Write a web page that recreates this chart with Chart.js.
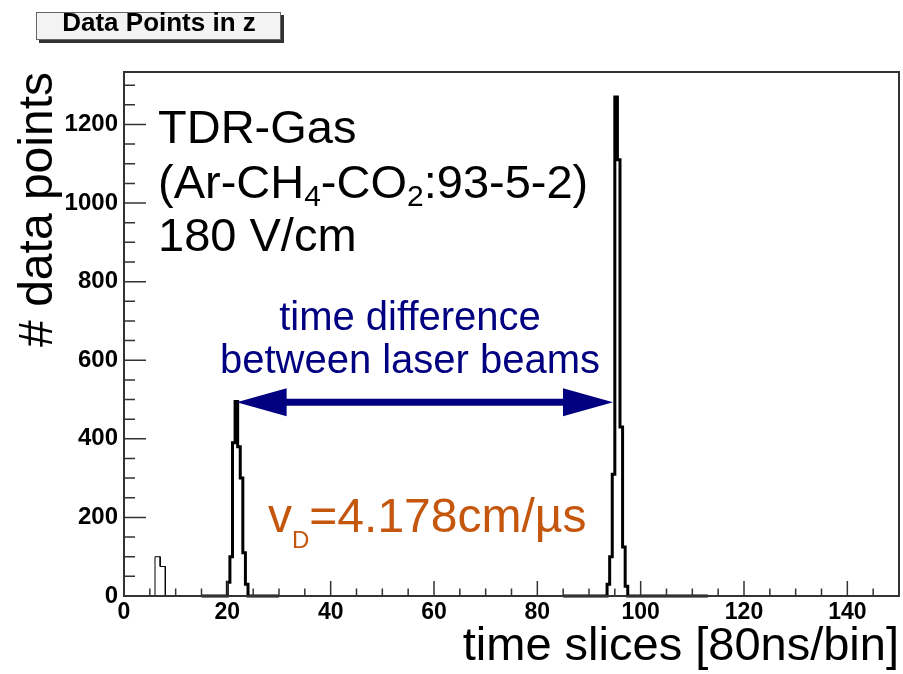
<!DOCTYPE html>
<html><head><meta charset="utf-8">
<script src="https://cdn.jsdelivr.net/npm/chart.js@4.4.0/dist/chart.umd.min.js"></script>
<style>html,body{margin:0;padding:0;background:#fff;} canvas{display:block;}</style>
</head><body>
<canvas id="c" width="903" height="674"></canvas>
<script>
// ---------- data ----------
const chartTitle = 'Data Points in z';
const xAxisTitle = 'time slices [80ns/bin]';
const yAxisTitle = '# data points';
const xRange = [0, 150];
const xTickStep = 20;
const xMinorStep = 5;
const yTickStep = 200;
const yMinorStep = 50;

// first laser beam peak (bin width 0.5 time slice, starting at 15)
const peak1Start = 15;
const peak1BinWidth = 0.5;
const peak1Counts = [0,0,0,0,0,0,0,0,0,0, 35,100,390,495,380,300,110,30, 0,0,0,0,0,0,0,0,0,0,0,0];

// second laser beam peak (bin width 0.5 time slice, starting at 85)
const peak2Start = 85;
const peak2BinWidth = 0.5;
const peak2Counts = [0,0,0,0,0,0,0,0,0,0,0,0,0,0,0,0,0,
  30,100,310,1270,1110,430,125,25,
  0,0,0,0,0,0,0,0,0,0,0,0,0,0,0,0,0,0,0,0,0,0,0,0,0,0,0,0,0,0,0];

// small early pulse (thin histogram, bin width 1)
const earlyStart = 5;
const earlyBinWidth = 1;
const earlyCounts = [0,100,75,0];

const gasLabel = ['TDR-Gas', '(Ar-CH4-CO2:93-5-2)', '180 V/cm'];
const arrowLabel = ['time difference', 'between laser beams'];
const driftLabel = { symbol: 'v', sub: 'D', value: '=4.178cm/\u00B5s' };
const arrowFromX = 21.8, arrowToX = 94.65, arrowAtY = 493;

// ---------- helpers ----------
function steps(start, bw, counts) {
  const pts = [{x: start, y: 0}];
  counts.forEach((c, i) => {
    pts.push({x: start + i * bw, y: c});
    pts.push({x: start + (i + 1) * bw, y: c});
  });
  pts.push({x: start + counts.length * bw, y: 0});
  return pts;
}
const yMax = 1.05 * Math.max(...peak1Counts, ...peak2Counts, ...earlyCounts);

const FONT = 'Liberation Sans, Arial, sans-serif';
const AXIS = '#333333';

const frameTicks = {
  id: 'frameTicks',
  afterDatasetsDraw(chart) {
    const {ctx, chartArea: a, scales: {x, y}} = chart;
    ctx.save();
    ctx.strokeStyle = AXIS;
    ctx.lineWidth = 1.5;
    ctx.beginPath();
    for (let v = xRange[0]; v <= xRange[1]; v += xMinorStep) {
      const px = x.getPixelForValue(v);
      const len = (v % xTickStep === 0) ? 15 : 7.5;
      ctx.moveTo(px, a.bottom); ctx.lineTo(px, a.bottom - len);
    }
    for (let v = 0; v <= yMax; v += yMinorStep) {
      const py = y.getPixelForValue(v);
      const len = (v % yTickStep === 0) ? 22 : 11;
      ctx.moveTo(a.left, py); ctx.lineTo(a.left + len, py);
    }
    ctx.stroke();
    ctx.lineWidth = 2;
    ctx.strokeRect(a.left, a.top, a.right - a.left, a.bottom - a.top);
    ctx.restore();
  }
};

const annotations = {
  id: 'annotations',
  afterDraw(chart) {
    const {ctx, scales: {x, y}} = chart;
    ctx.save();
    // title box
    ctx.fillStyle = '#333';
    ctx.fillRect(39, 15, 245, 28);
    ctx.fillStyle = '#f3f3f3';
    ctx.fillRect(36, 12, 245, 28);
    ctx.strokeStyle = '#666';
    ctx.lineWidth = 1;
    ctx.strokeRect(36.5, 12.5, 244, 27);
    ctx.fillStyle = '#000';
    ctx.font = 'bold 26px ' + FONT;
    ctx.textAlign = 'center';
    ctx.textBaseline = 'alphabetic';
    ctx.fillText(chartTitle, 159, 31);

    // gas description
    ctx.textAlign = 'left';
    ctx.font = '47px ' + FONT;
    ctx.fillText(gasLabel[0], 158, 143);
    let cx = 158; const by = 198;
    const parts = [['(Ar-CH', 0], ['4', 1], ['-CO', 0], ['2', 1], [':93-5-2)', 0]];
    parts.forEach(([t, sub]) => {
      ctx.font = (sub ? '30px ' : '47px ') + FONT;
      ctx.fillText(t, cx, by + (sub ? 8 : 0));
      cx += ctx.measureText(t).width;
    });
    ctx.font = '47px ' + FONT;
    ctx.fillText(gasLabel[2], 158, 251);

    // arrow
    const x1 = x.getPixelForValue(arrowFromX), x2 = x.getPixelForValue(arrowToX);
    const ay = y.getPixelForValue(arrowAtY);
    const hl = 50, hw = 14;
    ctx.fillStyle = '#000080';
    ctx.strokeStyle = '#000080';
    ctx.lineWidth = 7;
    ctx.beginPath(); ctx.moveTo(x1 + hl - 2, ay); ctx.lineTo(x2 - hl + 2, ay); ctx.stroke();
    ctx.beginPath(); ctx.moveTo(x1, ay); ctx.lineTo(x1 + hl, ay - hw); ctx.lineTo(x1 + hl, ay + hw); ctx.closePath(); ctx.fill();
    ctx.beginPath(); ctx.moveTo(x2, ay); ctx.lineTo(x2 - hl, ay - hw); ctx.lineTo(x2 - hl, ay + hw); ctx.closePath(); ctx.fill();

    ctx.font = '40px ' + FONT;
    ctx.textAlign = 'center';
    ctx.fillText(arrowLabel[0], 410, 330);
    ctx.fillText(arrowLabel[1], 410, 373);

    // drift velocity
    ctx.textAlign = 'left';
    ctx.fillStyle = '#c4560e';
    let dx = 268;
    ctx.font = '48px ' + FONT;
    ctx.fillText(driftLabel.symbol, dx, 532);
    dx += ctx.measureText(driftLabel.symbol).width;
    ctx.font = '24px ' + FONT;
    ctx.fillText(driftLabel.sub, dx, 548);
    dx += ctx.measureText(driftLabel.sub).width;
    ctx.font = '48px ' + FONT;
    ctx.fillText(driftLabel.value, dx, 532);
    ctx.restore();
  }
};

new Chart(document.getElementById('c'), {
  type: 'line',
  data: {
    datasets: [
      { data: steps(earlyStart, earlyBinWidth, earlyCounts), borderColor: '#000', borderWidth: 1 },
      { data: steps(peak1Start, peak1BinWidth, peak1Counts), borderColor: '#000', borderWidth: 3 },
      { data: steps(peak2Start, peak2BinWidth, peak2Counts), borderColor: '#000', borderWidth: 3 }
    ]
  },
  options: {
    responsive: false,
    animation: false,
    devicePixelRatio: 1,
    layout: { padding: { top: 72, right: 4, bottom: 0, left: 0 } },
    elements: { point: { radius: 0 }, line: { tension: 0, fill: false, borderJoinStyle: 'miter', borderCapStyle: 'butt' } },
    datasets: { line: { clip: false } },
    plugins: { legend: { display: false }, tooltip: { enabled: false }, title: { display: false } },
    scales: {
      x: {
        type: 'linear', min: xRange[0], max: xRange[1],
        afterFit: s => { s.height = 78; },
        grid: { display: false, drawTicks: false },
        border: { display: false },
        ticks: { stepSize: xTickStep, includeBounds: false, autoSkip: false, maxRotation: 0, padding: 3,
                 callback: v => String(v),
                 color: '#000', font: { family: FONT, size: 23, weight: 'bold' } },
        title: { display: true, text: xAxisTitle, align: 'end', color: '#000',
                 font: { family: FONT, size: 47, lineHeight: 1 }, padding: { top: 0, bottom: 3 } }
      },
      y: {
        type: 'linear', min: 0, max: yMax,
        afterFit: s => { s.width = 124; },
        grid: { display: false, drawTicks: false },
        border: { display: false },
        ticks: { stepSize: yTickStep, includeBounds: false, autoSkip: false, padding: 6,
                 callback: v => String(v),
                 color: '#000', font: { family: FONT, size: 24, weight: 'bold' } },
        title: { display: true, text: yAxisTitle, align: 'end', color: '#000',
                 font: { family: FONT, size: 48, lineHeight: 1 }, padding: { top: 15, bottom: 0 } }
      }
    }
  },
  plugins: [frameTicks, annotations]
});
</script>
</body></html>
